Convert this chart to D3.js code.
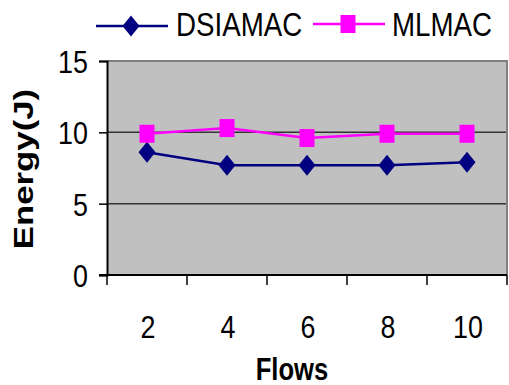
<!DOCTYPE html>
<html>
<head>
<meta charset="utf-8">
<script src="https://cdn.jsdelivr.net/npm/d3@7"></script>
<style>
  body { margin: 0; background: #fff; }
  text { font-family: "Liberation Sans", Arial, sans-serif; }
</style>
</head>
<body>
<div id="vis"></div>
<script>
// data
var flows = ["2", "4", "6", "8", "10"];
var dsiamac = [8.6, 7.7, 7.7, 7.7, 7.9];
var mlmac = [9.9, 10.3, 9.6, 9.9, 9.9];
var yTicks = [0, 5, 10, 15];

var W = 509, H = 385;
var plot = { left: 107, right: 507, top: 61, bottom: 275 };

var svg = d3.select("#vis")
    .append("svg")
    .attr("width", W)
    .attr("height", H);

var x = d3.scaleBand().domain(flows).range([plot.left, plot.right]).padding(0);
var y = d3.scaleLinear().domain([0, 15]).range([plot.bottom, plot.top]);

// plot area
svg.append("rect")
    .attr("x", plot.left).attr("y", plot.top)
    .attr("width", plot.right - plot.left).attr("height", plot.bottom - plot.top)
    .attr("fill", "#c0c0c0");

// grid lines
svg.selectAll(".grid")
    .data(yTicks.filter(d => d > 0 && d < 15))
    .enter().append("line")
    .attr("class", "grid")
    .attr("x1", plot.left).attr("x2", plot.right)
    .attr("y1", d => y(d)).attr("y2", d => y(d))
    .attr("stroke", "#333").attr("stroke-width", 1.5);

// top/right border
svg.append("path")
    .attr("d", "M" + plot.left + "," + plot.top + "H" + plot.right + "V" + plot.bottom)
    .attr("fill", "none").attr("stroke", "#808080").attr("stroke-width", 2);

// y axis
var yAxis = d3.axisLeft(y).tickValues(yTicks).tickSize(8).tickFormat(d3.format("d"));
var gy = svg.append("g")
    .attr("transform", "translate(" + plot.left + ",0)")
    .call(yAxis);
gy.select(".domain").attr("stroke", "#000").attr("stroke-width", 2);
gy.selectAll(".tick line").attr("stroke", "#000").attr("stroke-width", 1.5);
gy.selectAll(".tick text").remove();
gy.selectAll(".tick").append("text")
    .attr("transform", "translate(-19,11.5) scale(0.84,1)")
    .attr("text-anchor", "end")
    .attr("fill", "#000")
    .attr("font-size", 32)
    .text(d => d);

// x axis: tick marks at band edges, labels at centres
var edges = flows.map(d => x(d)).concat([plot.right]);
svg.selectAll(".xtick")
    .data(edges)
    .enter().append("line")
    .attr("class", "xtick")
    .attr("x1", d => d).attr("x2", d => d)
    .attr("y1", plot.bottom).attr("y2", plot.bottom + 10)
    .attr("stroke", "#000").attr("stroke-width", 1.5);
svg.append("line")
    .attr("x1", plot.left - 8).attr("x2", plot.right)
    .attr("y1", plot.bottom).attr("y2", plot.bottom)
    .attr("stroke", "#000").attr("stroke-width", 2);
svg.selectAll(".xlabel")
    .data(flows)
    .enter().append("text")
    .attr("class", "xlabel")
    .attr("transform", d => "translate(" + (x(d) + x.bandwidth() / 2 + 1) + ",338) scale(0.84,1)")
    .attr("text-anchor", "middle")
    .attr("font-size", 32)
    .text(d => d);

// axis titles
svg.append("text")
    .attr("transform", "translate(292,380) scale(0.8,1)")
    .attr("text-anchor", "middle")
    .attr("font-size", 32)
    .attr("font-weight", "bold")
    .text("Flows");
svg.append("text")
    .attr("transform", "translate(33,169) rotate(-90) scale(1.16,0.93)")
    .attr("text-anchor", "middle")
    .attr("font-size", 30)
    .attr("font-weight", "bold")
    .text("Energy(J)");

// series
var series = [
    { name: "DSIAMAC", values: dsiamac, color: "#000080", shape: "diamond" },
    { name: "MLMAC", values: mlmac, color: "#ff00ff", shape: "square" }
];

function marker(g, shape, color) {
    if (shape === "diamond") {
        g.append("path").attr("d", "M0,-10.5L8.5,0L0,10.5L-8.5,0Z").attr("fill", color);
    } else {
        g.append("rect").attr("x", -7.5).attr("y", -9).attr("width", 15).attr("height", 18).attr("fill", color);
    }
}

var line = d3.line()
    .x((d, i) => x(flows[i]) + x.bandwidth() / 2)
    .y(d => y(d));

series.forEach(function (s) {
    svg.append("path")
        .datum(s.values)
        .attr("d", line)
        .attr("fill", "none")
        .attr("stroke", s.color)
        .attr("stroke-width", 2.5);
    s.values.forEach(function (v, i) {
        var g = svg.append("g")
            .attr("transform", "translate(" + (x(flows[i]) + x.bandwidth() / 2) + "," + y(v) + ")");
        marker(g, s.shape, s.color);
    });
});

// legend
var legendPos = [{ x: 96, y: 26, tx: 176 }, { x: 313, y: 24, tx: 392 }];
series.forEach(function (s, i) {
    var p = legendPos[i];
    svg.append("line")
        .attr("x1", p.x).attr("x2", p.x + 72)
        .attr("y1", p.y).attr("y2", p.y)
        .attr("stroke", s.color).attr("stroke-width", 2.5);
    var g = svg.append("g").attr("transform", "translate(" + (p.x + 35) + "," + p.y + ")");
    marker(g, s.shape, s.color);
    svg.append("text")
        .attr("transform", "translate(" + p.tx + ",36) scale(0.84,1)")
        .attr("font-size", 33)
        .text(s.name);
});
</script>
</body>
</html>
